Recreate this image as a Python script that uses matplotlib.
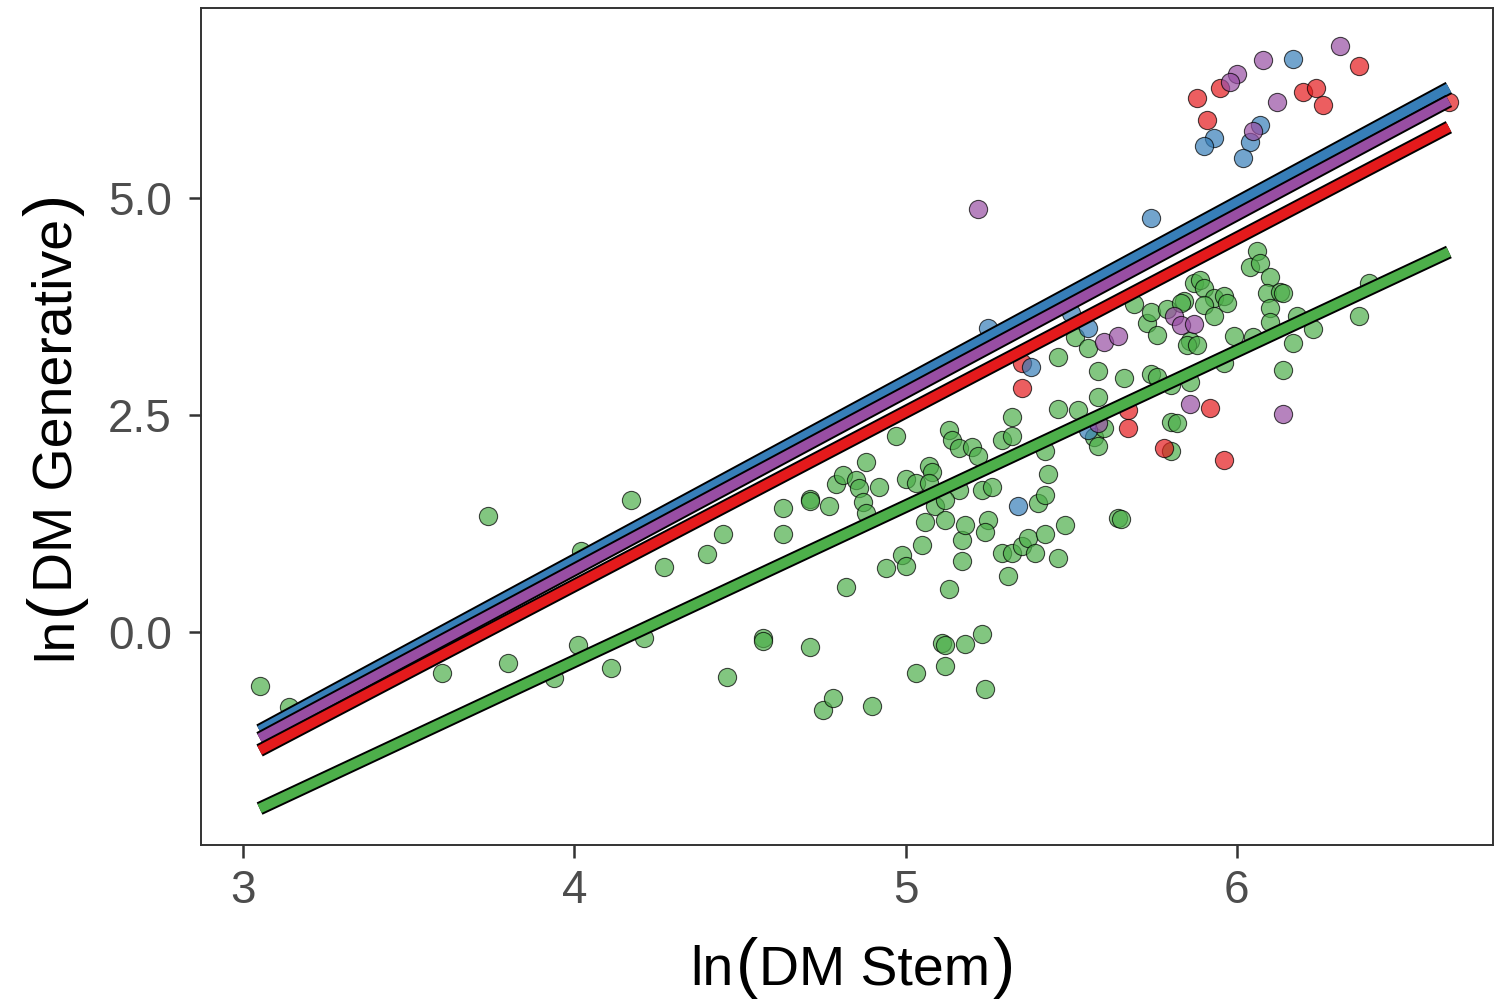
import numpy as np
import matplotlib
matplotlib.use("Agg")
import matplotlib.pyplot as plt
import matplotlib.patheffects as pe
from matplotlib.transforms import IdentityTransform

plt.rcParams["font.family"] = ["Liberation Sans", "DejaVu Sans"]

# ln(DM Stem) / ln(DM Generative) per group (Set1 colours)
green_x = [3.05, 3.14, 3.60, 3.74, 3.80, 3.94, 4.01, 4.02, 4.11, 4.17, 4.21, 4.27, 4.40, 4.45,
           4.46, 4.57, 4.57, 4.63, 4.63, 4.71, 4.71, 4.71, 4.77, 4.75, 4.78, 4.79, 4.81, 4.82,
           4.85, 4.86, 4.87, 4.88, 4.88, 4.90, 4.92, 4.94, 4.97, 4.99, 5.00, 5.00, 5.03, 5.03,
           5.05, 5.06, 5.07, 5.08, 5.07, 5.09, 5.11, 5.12, 5.12, 5.12, 5.13, 5.13, 5.14, 5.16,
           5.12, 5.16, 5.17, 5.17, 5.18, 5.18, 5.20, 5.22, 5.23, 5.26, 5.23, 5.24, 5.25, 5.24,
           5.29, 5.29, 5.31, 5.32, 5.32, 5.32, 5.35, 5.37, 5.39, 5.40, 5.42, 5.42, 5.43, 5.46,
           5.48, 5.46, 5.46, 5.52, 5.51, 5.55, 5.57, 5.58, 5.58, 5.58, 5.60, 5.64, 5.65, 5.66,
           5.69, 5.73, 5.74, 5.76, 5.74, 5.76, 5.79, 5.80, 5.80, 5.82, 5.80, 5.84, 5.83, 5.86,
           5.86, 5.85, 5.88, 5.87, 5.89, 5.90, 5.93, 5.90, 5.93, 5.96, 5.97, 5.96, 5.99, 6.05,
           6.04, 6.06, 6.07, 6.10, 6.09, 6.13, 6.14, 6.10, 6.10, 6.18, 6.17, 6.14, 6.23, 6.37,
           6.40, 5.42]
green_y = [-0.62, -0.86, -0.47, 1.34, -0.35, -0.52, -0.14, 0.94, -0.41, 1.53, -0.07, 0.75, 0.90, 1.13,
           -0.51, -0.06, -0.10, 1.43, 1.13, 1.54, 1.51, -0.17, 1.45, -0.90, -0.76, 1.71, 1.81, 0.52,
           1.76, 1.66, 1.50, 1.38, 1.96, -0.85, 1.68, 0.74, 2.26, 0.89, 0.77, 1.77, -0.47, 1.72,
           1.01, 1.27, 1.92, 1.85, 1.72, 1.46, -0.12, -0.14, -0.39, 1.29, 0.50, 2.33, 2.22, 1.64,
           1.52, 2.12, 1.06, 0.82, 1.24, -0.13, 2.13, 2.03, 1.64, 1.68, -0.02, -0.65, 1.29, 1.16,
           0.91, 2.22, 0.65, 2.26, 2.48, 0.91, 1.00, 1.09, 0.91, 1.49, 1.58, 1.13, 1.83, 0.86,
           1.24, 2.57, 3.17, 2.56, 3.40, 3.28, 2.25, 2.15, 3.01, 2.71, 2.35, 1.32, 1.31, 2.93,
           3.78, 3.56, 3.69, 3.42, 2.98, 2.94, 3.73, 2.85, 2.42, 2.41, 2.09, 3.82, 3.79, 2.88,
           3.36, 3.31, 3.31, 4.03, 4.06, 3.97, 3.85, 3.77, 3.65, 3.88, 3.79, 3.10, 3.41, 3.40,
           4.21, 4.39, 4.26, 4.09, 3.91, 3.92, 3.91, 3.74, 3.57, 3.65, 3.33, 3.02, 3.50, 3.64,
           4.03, 2.09]

red_x = [5.35, 5.35, 5.67, 5.67, 5.78, 5.92, 5.96, 5.88, 5.95, 5.91, 6.20, 6.24, 6.26, 6.37, 6.64]
red_y = [2.81, 3.10, 2.56, 2.35, 2.12, 2.59, 1.99, 6.15, 6.27, 5.90, 6.22, 6.27, 6.07, 6.52, 6.11]

blue_x = [5.34, 5.38, 5.25, 5.50, 5.55, 5.55, 5.74, 6.17, 6.07, 5.93, 5.90, 6.04, 6.02]
blue_y = [1.46, 3.06, 3.51, 3.68, 3.51, 2.33, 4.77, 6.60, 5.84, 5.69, 5.60, 5.65, 5.47]

purple_x = [5.22, 5.60, 5.64, 5.81, 5.83, 5.87, 5.86, 6.14, 5.58, 6.31, 6.08, 6.00, 5.98, 6.12, 6.05]
purple_y = [4.88, 3.35, 3.41, 3.65, 3.54, 3.55, 2.63, 2.51, 2.41, 6.76, 6.59, 6.43, 6.34, 6.11, 5.78]

# fitted lines: intercept, slope
fits = {
    "blue": (-7.42, 2.062),
    "purple": (-7.457, 2.045),
    "red": (-7.46, 2.0),
    "green": (-7.477, 1.786),
}

colors = {"red": "#E41A1C", "blue": "#377EB8", "green": "#4DAF4A", "purple": "#984EA3"}

fig = plt.figure(figsize=(14.94, 10.01), dpi=100)
ax = fig.add_axes([0.1345, 0.1558, 0.8648, 0.836])

groups = [("green", green_x, green_y), ("red", red_x, red_y),
          ("blue", blue_x, blue_y), ("purple", purple_x, purple_y)]
for name, gx, gy in groups:
    ax.scatter(gx, gy, s=172, c=colors[name], edgecolors="black", linewidths=0.8,
               alpha=0.7, zorder=2)

all_x = np.concatenate([green_x, red_x, blue_x, purple_x])
xs = np.array([all_x.min(), all_x.max()])
for name in ["blue", "purple", "red", "green"]:
    b0, b1 = fits[name]
    ax.plot(xs, b0 + b1 * xs, color=colors[name], lw=7.0, solid_capstyle="butt", zorder=3,
            path_effects=[pe.Stroke(linewidth=9.8, foreground="black"), pe.Normal()])

ax.set_xlim(2.873, 6.773)
ax.set_ylim(-2.45, 7.19)
ax.set_xticks([3, 4, 5, 6])
ax.set_yticks([0, 2.5, 5.0])
ax.set_yticklabels(["0.0", "2.5", "5.0"])

for sp in ax.spines.values():
    sp.set_color("#333333")
    sp.set_linewidth(1.4)
ax.tick_params(axis="both", length=9, width=1.8, color="#333333",
               labelsize=33, labelcolor="#4D4D4D")
ax.tick_params(axis="x", pad=8)
ax.tick_params(axis="y", pad=12)


def axis_title(pieces, center, baseline, vertical=False):
    # plotmath-style title: "ln" + tall "(" + text + tall ")"
    r = fig.canvas.get_renderer()
    widths = []
    for s, fs, gap in pieces:
        t = fig.text(0, 0, s, fontsize=fs, transform=IdentityTransform())
        widths.append(t.get_window_extent(r).width + gap)
        t.remove()
    pos = center - sum(widths) / 2
    for (s, fs, gap), w in zip(pieces, widths):
        if vertical:
            fig.text(baseline, pos, s, fontsize=fs, rotation=90, rotation_mode="anchor",
                     ha="left", va="baseline", transform=IdentityTransform())
        else:
            fig.text(pos, baseline, s, fontsize=fs, ha="left", va="baseline",
                     transform=IdentityTransform())
        pos += w


axis_title([("ln", 40, 2), ("(", 48, 1), ("DM Stem", 40, 3), (")", 48, 0)],
           center=853, baseline=16)
axis_title([("ln", 40, 2), ("(", 48, 1), ("DM Generative", 40, 3), (")", 48, 0)],
           center=574, baseline=71, vertical=True)

fig.savefig("out.png", dpi=100)
